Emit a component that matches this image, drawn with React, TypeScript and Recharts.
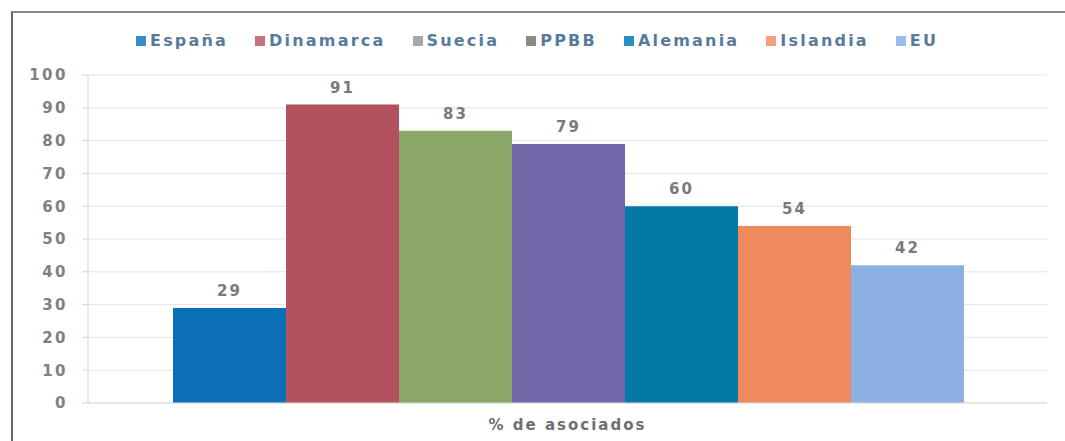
import React from "react"
import { BarChart, Bar, XAxis, YAxis, CartesianGrid, LabelList } from "recharts"

const paises = ["España", "Dinamarca", "Suecia", "PPBB", "Alemania", "Islandia", "EU"]
const valores = [29, 91, 83, 79, 60, 54, 42]
const coloresBarra = ["#0b6fb8", "#b3525f", "#8aa768", "#7267a8", "#0479a8", "#ef8a5c", "#8db0e2"]
const coloresLeyenda = ["#3a8ccc", "#c9717f", "#a8a8a8", "#8a8a8a", "#2590c0", "#f5a07a", "#9cbbee"]
const categoria = "% de asociados"
const ticksY = [0, 10, 20, 30, 40, 50, 60, 70, 80, 90, 100]

const fila: Record<string, string | number> = { name: categoria }
paises.forEach((p, i) => {
  fila[p] = valores[i]
})
const data = [fila]

const fuente = "'DejaVu Sans', Verdana, sans-serif"

function Leyenda() {
  return (
    <div
      style={{
        position: "absolute",
        left: 136,
        top: 31,
        display: "flex",
        gap: 27,
        fontFamily: fuente,
        fontSize: 16,
        fontWeight: 600,
        letterSpacing: 2.2,
        color: "#587b9c",
        whiteSpace: "nowrap",
      }}
    >
      {paises.map((p, i) => (
        <div key={p} style={{ display: "flex", alignItems: "center" }}>
          <span
            style={{
              display: "inline-block",
              width: 10,
              height: 10,
              background: coloresLeyenda[i],
              marginRight: 4,
            }}
          />
          <span>{p}</span>
        </div>
      ))}
    </div>
  )
}

export default function App() {
  return (
    <div
      style={{
        position: "absolute",
        left: 0,
        top: 0,
        width: 1065,
        height: 441,
        background: "#fff",
        fontFamily: fuente,
      }}
    >
      <div
        style={{
          position: "absolute",
          left: 11,
          top: 11,
          right: 0,
          bottom: 0,
          borderTop: "2px solid #8a8a8a",
          borderLeft: "2px solid #666",
        }}
      />
      <Leyenda />
      <BarChart
        width={1065}
        height={441}
        data={data}
        margin={{ top: 75, right: 18, bottom: 8, left: 0 }}
        barCategoryGap={85}
        barGap={0}
      >
        <CartesianGrid vertical={false} stroke="#e4e4e4" />
        <XAxis
          dataKey="name"
          axisLine={{ stroke: "#dcdcdc" }}
          tickLine={false}
          tickMargin={10}
          tick={{ fontSize: 15, fontWeight: 600, fill: "#6f6f6f", letterSpacing: 2 }}
        />
        <YAxis
          width={88}
          domain={[0, 100]}
          ticks={ticksY}
          interval={0}
          axisLine={{ stroke: "#d4d4d4" }}
          tickLine={{ stroke: "#d4d4d4" }}
          tickSize={6}
          tickMargin={14}
          tick={{ fontSize: 15, fontWeight: 600, fill: "#808080", letterSpacing: 2.5 }}
        />
        {paises.map((p, i) => (
          <Bar key={p} dataKey={p} fill={coloresBarra[i]} isAnimationActive={false}>
            <LabelList
              dataKey={p}
              position="top"
              offset={12}
              style={{ fontSize: 15, fontWeight: 600, fill: "#7a7a7a", letterSpacing: 2 }}
            />
          </Bar>
        ))}
      </BarChart>
    </div>
  )
}
